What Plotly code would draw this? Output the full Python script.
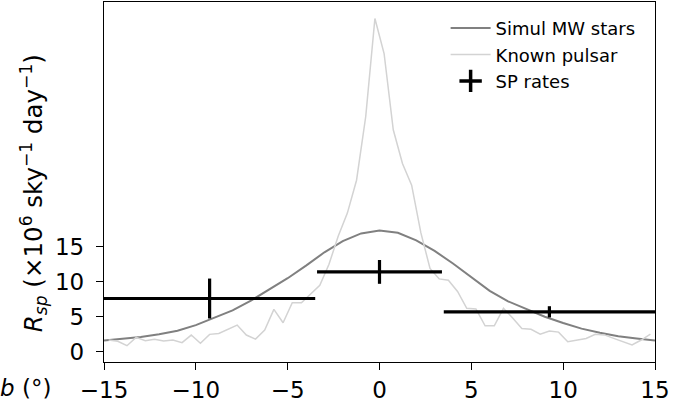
import plotly.graph_objects as go

# Simulated MW stars profile
simul_b = list(range(-15, 16))
simul_rate = [1.6, 1.8, 2.1, 2.5, 3.0, 3.8, 4.8, 5.9, 7.3, 8.9, 10.5, 12.3, 14.2, 15.8, 16.9,
              17.3, 17.0, 15.9, 14.4, 12.6, 10.6, 8.7, 7.2, 6.1, 5.0, 4.1, 3.3, 2.7, 2.2, 1.9, 1.6]

# Known pulsar profile (0.5 deg bins)
pulsar_b = [-14.75 + 0.5 * i for i in range(60)]
pulsar_rate = [1.67, 1.5, 0.86, 2.05, 1.57, 1.77, 1.53, 1.67, 1.29, 2.38,
               1.2, 2.48, 2.6, 3.2, 3.8, 2.38, 1.8, 3.1, 6.05, 4.14,
               7.0, 7.0, 8.3, 9.5, 12.5, 16.5, 19.8, 24.5, 33.6, 47.6,
               42.6, 31.7, 26.9, 23.8, 17.0, 11.9, 10.4, 10.2, 8.6, 6.2,
               6.1, 3.7, 3.7, 6.2, 4.8, 3.3, 3.2, 2.5, 2.96, 2.8,
               1.43, 1.67, 1.9, 2.5, 2.4, 1.9, 1.43, 0.96, 1.67, 2.5]

# SP rates with errors
sp_b = [-9.25, 0.0, 9.25]
sp_berr = [5.75, 3.4, 5.75]
sp_rate = [7.6, 11.4, 5.7]
sp_rerr = [2.85, 1.7, 0.8]

FONT = "DejaVu Sans"

fig = go.Figure()
fig.add_trace(go.Scatter(x=simul_b, y=simul_rate, mode="lines", name="Simul MW stars",
                         line=dict(color="#808080", width=2), legendgroup="a"))
fig.add_trace(go.Scatter(x=pulsar_b, y=pulsar_rate, mode="lines", name="Known pulsar",
                         line=dict(color="#d3d3d3", width=1.5), legendgroup="b"))
fig.add_trace(go.Scatter(x=sp_b, y=sp_rate, mode="markers", showlegend=False,
                         marker=dict(size=1, color="black"),
                         error_x=dict(type="data", array=sp_berr, thickness=3.2, width=0, color="black"),
                         error_y=dict(type="data", array=sp_rerr, thickness=3.2, width=0, color="black")))
fig.add_trace(go.Scatter(x=[None], y=[None], mode="markers", name="SP rates", legendgroup="c",
                         marker=dict(symbol="cross-thin", size=16, color="black",
                                     line=dict(width=3.5, color="black"))))

axis_common = dict(showline=True, linecolor="black", linewidth=1.3, mirror=True,
                   ticks="outside", ticklen=7, tickwidth=1.3, tickcolor="black",
                   showgrid=False, zeroline=False,
                   tickfont=dict(family=FONT, size=23, color="black"))

fig.update_xaxes(range=[-15, 15], tickvals=[-15, -10, -5, 0, 5, 10, 15], **axis_common)
fig.update_yaxes(range=[-1.47, 49.96], tickvals=[0, 5, 10, 15], ticklabelstandoff=7, **axis_common)

fig.add_annotation(text="<i>b</i> (°)", xref="paper", yref="paper", x=-0.093, y=-0.072,
                   xanchor="right", yanchor="middle", showarrow=False,
                   font=dict(family=FONT, size=23, color="black"))
fig.add_annotation(text="<i>R</i><sub><i>sp</i></sub> (×10<sup>6</sup> sky<sup>−1</sup> day<sup>−1</sup>)",
                   xref="paper", yref="paper", x=-0.128, y=0.47, textangle=-90,
                   xanchor="center", yanchor="middle", showarrow=False,
                   font=dict(family=FONT, size=24.5, color="black"))

fig.update_layout(
    width=694, height=405,
    margin=dict(l=104, r=39, t=2, b=43),
    plot_bgcolor="white", paper_bgcolor="white",
    legend=dict(x=0.62, y=0.978, xanchor="left", yanchor="top",
                font=dict(family=FONT, size=18, color="black"),
                bgcolor="rgba(0,0,0,0)", tracegroupgap=0, itemwidth=40),
)

fig.write_html("out.html")
